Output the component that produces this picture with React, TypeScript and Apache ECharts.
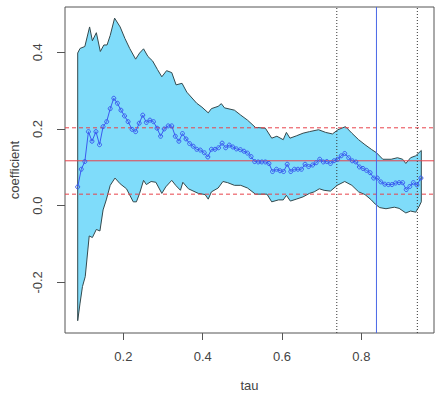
import React, { useEffect, useRef } from "react";
import * as echarts from "echarts";

// quantile grid
const tau = [
  0.085, 0.094, 0.103, 0.112, 0.121, 0.131, 0.14, 0.149, 0.158, 0.167,
  0.176, 0.185, 0.194, 0.203, 0.212, 0.222, 0.231, 0.24, 0.249, 0.258,
  0.267, 0.276, 0.285, 0.294, 0.303, 0.313, 0.322, 0.331, 0.34, 0.349,
  0.358, 0.367, 0.376, 0.385, 0.394, 0.404, 0.413, 0.422, 0.431, 0.44,
  0.449, 0.458, 0.467, 0.476, 0.485, 0.495, 0.504, 0.513, 0.522, 0.531,
  0.54, 0.549, 0.558, 0.567, 0.576, 0.586, 0.595, 0.604, 0.613, 0.622,
  0.631, 0.64, 0.649, 0.658, 0.667, 0.677, 0.686, 0.695, 0.704, 0.713,
  0.722, 0.731, 0.74, 0.749, 0.758, 0.768, 0.777, 0.786, 0.795, 0.804,
  0.813, 0.822, 0.831, 0.84, 0.849, 0.859, 0.868, 0.877, 0.886, 0.895,
  0.904, 0.913, 0.922, 0.931, 0.94, 0.95,
];

// estimated quantile regression coefficient
const coef = [
  0.049, 0.095, 0.115, 0.193, 0.168, 0.193, 0.159, 0.206, 0.219, 0.253,
  0.28, 0.267, 0.249, 0.234, 0.219, 0.199, 0.193, 0.215, 0.236, 0.217,
  0.223, 0.219, 0.202, 0.181, 0.2, 0.208, 0.208, 0.181, 0.168, 0.188,
  0.174, 0.162, 0.155, 0.147, 0.145, 0.138, 0.127, 0.147, 0.147, 0.151,
  0.163, 0.151, 0.158, 0.153, 0.148, 0.146, 0.142, 0.137, 0.128, 0.115,
  0.114, 0.114, 0.114, 0.11, 0.089, 0.095, 0.091, 0.089, 0.108, 0.089,
  0.095, 0.095, 0.095, 0.108, 0.102, 0.106, 0.112, 0.121, 0.114, 0.115,
  0.11, 0.117, 0.121, 0.13, 0.136, 0.125, 0.117, 0.114, 0.101, 0.097,
  0.092, 0.086, 0.072, 0.072, 0.062, 0.056, 0.055, 0.055, 0.059, 0.06,
  0.06, 0.042, 0.05, 0.06, 0.054, 0.072,
];

// upper confidence bound
const upperTau = [
  0.085, 0.091, 0.103, 0.115, 0.122, 0.132, 0.142, 0.151, 0.159, 0.167,
  0.178, 0.192, 0.204, 0.216, 0.231, 0.241, 0.251, 0.262, 0.274, 0.286,
  0.297, 0.309, 0.322, 0.333, 0.348, 0.36, 0.385, 0.398, 0.414, 0.422,
  0.439, 0.447, 0.455, 0.48, 0.496, 0.513, 0.533, 0.558, 0.574, 0.587,
  0.603, 0.611, 0.62, 0.636, 0.653, 0.669, 0.692, 0.71, 0.727, 0.741,
  0.76, 0.776, 0.793, 0.809, 0.825, 0.838, 0.854, 0.875, 0.891, 0.904,
  0.912, 0.924, 0.937, 0.945, 0.951,
];
const upperVal = [
  0.398, 0.41, 0.415, 0.466, 0.43, 0.451, 0.402, 0.419, 0.419, 0.444,
  0.489, 0.466, 0.436, 0.41, 0.382, 0.398, 0.409, 0.389, 0.377, 0.355,
  0.336, 0.352, 0.347, 0.315, 0.319, 0.296, 0.267, 0.257, 0.242, 0.253,
  0.259, 0.266, 0.255, 0.249, 0.236, 0.223, 0.204, 0.202, 0.176, 0.181,
  0.172, 0.191, 0.176, 0.182, 0.189, 0.193, 0.198, 0.191, 0.187, 0.198,
  0.206, 0.189, 0.172, 0.159, 0.147, 0.138, 0.121, 0.121, 0.125, 0.121,
  0.11, 0.125, 0.13, 0.138, 0.144,
];

// lower confidence bound
const lowerTau = [
  0.085, 0.091, 0.097, 0.104, 0.114, 0.122, 0.132, 0.141, 0.149, 0.157,
  0.167, 0.179, 0.192, 0.208, 0.225, 0.233, 0.241, 0.251, 0.258, 0.27,
  0.282, 0.297, 0.307, 0.322, 0.332, 0.344, 0.35, 0.364, 0.389, 0.406,
  0.414, 0.422, 0.439, 0.451, 0.463, 0.48, 0.496, 0.513, 0.533, 0.562,
  0.574, 0.591, 0.603, 0.611, 0.621, 0.636, 0.653, 0.669, 0.681, 0.694,
  0.706, 0.722, 0.739, 0.758, 0.776, 0.793, 0.809, 0.825, 0.835, 0.846,
  0.862, 0.883, 0.895, 0.912, 0.924, 0.937, 0.945, 0.951,
];
const lowerVal = [
  -0.3, -0.254, -0.211, -0.185, -0.079, -0.083, -0.062, -0.066, -0.011, 0.015,
  0.053, 0.072, 0.057, 0.044, 0.01, 0.01, 0.032, 0.066, 0.055, 0.063,
  0.061, 0.032, 0.049, 0.066, 0.053, 0.04, 0.061, 0.044, 0.032, 0.029,
  0.017, 0.036, 0.046, 0.063, 0.06, 0.053, 0.053, 0.046, 0.03, 0.03,
  0.01, 0.015, 0.015, 0.027, 0.012, 0.017, 0.023, 0.032, 0.036, 0.044,
  0.04, 0.038, 0.053, 0.063, 0.053, 0.036, 0.029, 0.015, 0.004, -0.005,
  -0.008, -0.004, -0.007, -0.019, -0.014, -0.017, -0.003, 0.01,
];

// reference lines
const olsEstimate = [0.117];
const olsBounds = [0.203, 0.03];
const dottedTaus = [0.738, 0.941];
const blueTaus = [0.838];

const xTicks = [0.2, 0.4, 0.6, 0.8];
const yTicks = [-0.2, 0.0, 0.2, 0.4];

const X_MIN = 0.053;
const X_MAX = 0.983;
const Y_MIN = -0.332;
const Y_MAX = 0.518;

const FONT = "'Liberation Sans', Arial, sans-serif";
const AXIS_GREY = "#555";
const RED = "#e8424a";
const BLUE = "#3a5af0";

function hLine(v: number, color: string, type: any) {
  return {
    type: "line",
    z: 3,
    silent: true,
    symbol: "none",
    data: [
      [X_MIN, v],
      [X_MAX, v],
    ],
    lineStyle: { color, type, width: 1 },
    itemStyle: { color },
    emphasis: { disabled: true },
  };
}

function vLine(v: number, color: string, type: any) {
  return {
    type: "line",
    z: 3,
    silent: true,
    symbol: "none",
    data: [
      [v, Y_MIN],
      [v, Y_MAX],
    ],
    lineStyle: { color, type, width: 1 },
    itemStyle: { color },
    emphasis: { disabled: true },
  };
}

export default function App() {
  const ref = useRef<HTMLDivElement>(null);

  useEffect(() => {
    document.body.style.margin = "0";
    if (!ref.current) return;
    const chart = echarts.init(ref.current, undefined, { renderer: "svg" });

    const centerData = tau.map((t, i) => [t, coef[i]]);

    chart.setOption({
      animation: false,
      textStyle: { fontFamily: FONT },
      grid: {
        left: 57,
        right: 2,
        top: 7,
        bottom: 57,
        show: true,
        borderColor: AXIS_GREY,
        borderWidth: 1,
        backgroundColor: "transparent",
      },
      xAxis: {
        type: "value",
        min: X_MIN,
        max: X_MAX,
        name: "tau",
        nameLocation: "middle",
        nameGap: 46,
        nameTextStyle: { color: "#444", fontSize: 13, fontFamily: FONT },
        axisLine: { show: false, onZero: false },
        axisTick: {
          show: true,
          length: 7,
          customValues: xTicks,
          lineStyle: { color: AXIS_GREY },
        },
        axisLabel: {
          customValues: xTicks,
          formatter: (v: number) => v.toFixed(1),
          color: "#444",
          fontSize: 13,
          margin: 17,
          fontFamily: FONT,
        },
        splitLine: { show: false },
      },
      yAxis: {
        type: "value",
        min: Y_MIN,
        max: Y_MAX,
        name: "coefficient",
        nameLocation: "middle",
        nameGap: 44,
        nameTextStyle: { color: "#444", fontSize: 13, fontFamily: FONT },
        axisLine: { show: false, onZero: false },
        axisTick: {
          show: true,
          length: 8,
          customValues: yTicks,
          lineStyle: { color: AXIS_GREY },
        },
        axisLabel: {
          customValues: yTicks,
          rotate: 90,
          formatter: (v: number) => v.toFixed(1),
          color: "#444",
          fontSize: 13,
          margin: 21,
          fontFamily: FONT,
        },
        splitLine: { show: false },
      },
      series: [
        {
          type: "custom",
          z: 1,
          silent: true,
          clip: false,
          data: [[0.5, 0.1]],
          encode: { x: 0, y: 1 },
          renderItem: (_params: any, api: any) => {
            const pts: number[][] = [];
            for (let i = 0; i < upperTau.length; i++) {
              pts.push(api.coord([upperTau[i], upperVal[i]]));
            }
            for (let i = lowerTau.length - 1; i >= 0; i--) {
              pts.push(api.coord([lowerTau[i], lowerVal[i]]));
            }
            return {
              type: "polygon",
              shape: { points: pts },
              style: { fill: "#7fdcfa", stroke: "#34494d", lineWidth: 1 },
            };
          },
        },
        ...olsEstimate.map((v) => hLine(v, RED, "solid")),
        ...olsBounds.map((v) => hLine(v, RED, [4, 3])),
        ...dottedTaus.map((v) => vLine(v, "#333", [1, 2])),
        ...blueTaus.map((v) => vLine(v, "#4a68e6", "solid")),
        {
          type: "line",
          z: 5,
          data: centerData,
          symbol: "circle",
          symbolSize: 4,
          showSymbol: true,
          color: BLUE,
          itemStyle: { color: "rgba(0,0,0,0)", borderColor: BLUE, borderWidth: 1 },
          lineStyle: { color: BLUE, width: 1 },
          silent: true,
        },
      ],
    });

    return () => chart.dispose();
  }, []);

  return <div ref={ref} style={{ width: 436, height: 397 }} />;
}
